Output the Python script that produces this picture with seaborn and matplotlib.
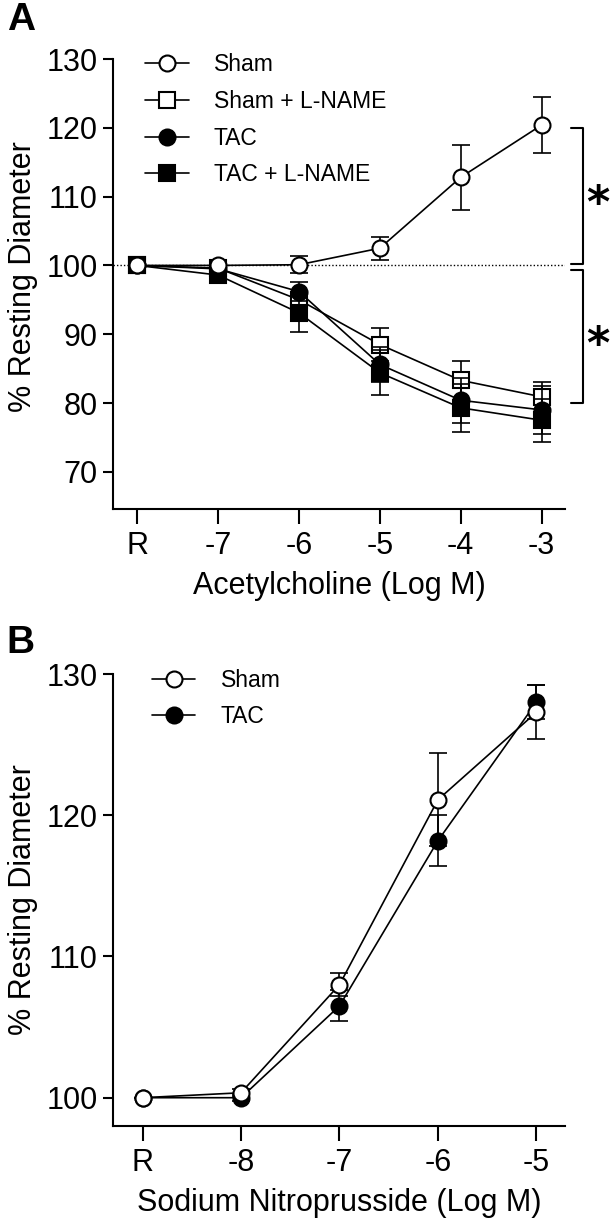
import numpy as np
import pandas as pd
import matplotlib
matplotlib.use('Agg')
import matplotlib.pyplot as plt
import seaborn as sns
from matplotlib.lines import Line2D

# Panel A: acetylcholine dose response
ach_labels = ['R', '-7', '-6', '-5', '-4', '-3']
sham = [100, 100, 100.1, 102.5, 112.8, 120.4]
sham_err = [0, 0.3, 1.2, 1.7, 4.7, 4.1]
sham_lname = [100, 99.6, 95.0, 88.5, 83.3, 80.9]
sham_lname_err = [0, 0.4, 1.2, 2.4, 2.8, 2.2]
tac = [100, 99.5, 96.2, 85.6, 80.4, 79.0]
tac_err = [0, 0.4, 1.4, 2.6, 3.3, 3.5]
tac_lname = [100, 98.6, 93.1, 84.4, 79.3, 77.5]
tac_lname_err = [0, 0.5, 2.8, 3.3, 3.5, 3.1]

# Panel B: sodium nitroprusside dose response
snp_labels = ['R', '-8', '-7', '-6', '-5']
snp_sham = [100, 100.35, 108.0, 121.1, 127.3]
snp_sham_err = [0, 0.3, 0.8, 3.3, 1.9]
snp_tac = [100, 100.0, 106.5, 118.2, 128.0]
snp_tac_err = [0, 0.2, 1.1, 1.8, 1.2]

sns.set_style('ticks')
plt.rcParams['font.family'] = ['Liberation Sans', 'DejaVu Sans']
plt.rcParams['axes.linewidth'] = 1.5
for key in ['text.color', 'axes.labelcolor', 'xtick.color', 'ytick.color', 'axes.edgecolor']:
    plt.rcParams[key] = 'black'

TICK_FS = 22
LABEL_FS = 22
LEG_FS = 16.5
MS = 11.5
LW = 1.2

fig = plt.figure(figsize=(6.1, 12.22), dpi=100)
axA = fig.add_axes([0.1852, 0.5835, 0.741, 0.3682])
axB = fig.add_axes([0.1852, 0.0786, 0.741, 0.3698])


def draw_series(ax, labels, vals, errs, name, marker, face, z):
    d = pd.DataFrame({'x': np.arange(len(labels)), 'y': vals, 'e': errs})
    ax.errorbar(d['x'], d['y'], yerr=d['e'], fmt='none', ecolor='black',
                elinewidth=1.2, capsize=6.5, capthick=1.2, zorder=z)
    sns.lineplot(data=d, x='x', y='y', ax=ax, color='black', lw=LW,
                 marker=marker, markersize=MS, markerfacecolor=face,
                 markeredgecolor='black', markeredgewidth=1.5,
                 label=name, zorder=z + 0.5, legend=False)


def style_axis(ax, labels, ylim, yticks, xlabel):
    ax.set_xlim(-0.3, len(labels) - 1 + 0.29)
    ax.set_ylim(*ylim)
    ax.set_yticks(yticks)
    ax.set_xticks(np.arange(len(labels)))
    ax.set_xticklabels(labels)
    ax.tick_params(axis='x', length=11, width=1.5, pad=5, labelsize=TICK_FS)
    ax.tick_params(axis='y', length=7, width=1.5, pad=4, labelsize=TICK_FS)
    ax.set_xlabel(xlabel, fontsize=LABEL_FS, labelpad=7)
    ax.set_ylabel('% Resting Diameter', fontsize=LABEL_FS)
    sns.despine(ax=ax)


def legend_handles(specs):
    return [Line2D([], [], color='black', lw=LW, marker=m, ms=MS, mfc=f,
                   mec='black', mew=1.5) for m, f in specs]


# ---- Panel A ----
axA.axhline(100, color='black', lw=1.0, ls=(0, (1, 1.5)), zorder=1)
draw_series(axA, ach_labels, sham_lname, sham_lname_err, 'Sham + L-NAME', 's', 'white', 2)
draw_series(axA, ach_labels, tac_lname, tac_lname_err, 'TAC + L-NAME', 's', 'black', 3)
draw_series(axA, ach_labels, tac, tac_err, 'TAC', 'o', 'black', 4)
draw_series(axA, ach_labels, sham, sham_err, 'Sham', 'o', 'white', 5)
style_axis(axA, ach_labels, (64.6, 130), [70, 80, 90, 100, 110, 120, 130],
           'Acetylcholine (Log M)')
axA.yaxis.set_label_coords(-0.166, 0.517)

axA.legend(legend_handles([('o', 'white'), ('s', 'white'), ('o', 'black'), ('s', 'black')]),
           ['Sham', 'Sham + L-NAME', 'TAC', 'TAC + L-NAME'],
           loc='upper left', bbox_to_anchor=(0.071, 1.013), frameon=False,
           fontsize=LEG_FS, handlelength=1.9, handletextpad=1.1,
           labelspacing=0.6, borderpad=0, borderaxespad=0)

# significance brackets
tr = axA.get_yaxis_transform()
for y0, y1, ys in [(120, 100.2, 108.9), (99.4, 80, 88.4)]:
    axA.plot([1.013, 1.040, 1.040, 1.013], [y0, y0, y1, y1], color='black',
             lw=1.5, transform=tr, clip_on=False)
    axA.text(1.072, ys, '*', transform=tr, fontsize=32, fontweight='bold',
             ha='center', va='center', family='DejaVu Sans')

# ---- Panel B ----
draw_series(axB, snp_labels, snp_tac, snp_tac_err, 'TAC', 'o', 'black', 3)
draw_series(axB, snp_labels, snp_sham, snp_sham_err, 'Sham', 'o', 'white', 4)
style_axis(axB, snp_labels, (98, 130), [100, 110, 120, 130],
           'Sodium Nitroprusside (Log M)')
axB.yaxis.set_label_coords(-0.166, 0.5)

axB.legend(legend_handles([('o', 'white'), ('o', 'black')]), ['Sham', 'TAC'],
           loc='upper left', bbox_to_anchor=(0.086, 1.012), frameon=False,
           fontsize=LEG_FS, handlelength=1.9, handletextpad=1.1,
           labelspacing=0.6, borderpad=0, borderaxespad=0)

# panel letters
fig.text(0.034, 0.9836, 'A', fontsize=28, fontweight='bold', ha='center', va='center')
fig.text(0.034, 0.474, 'B', fontsize=28, fontweight='bold', ha='center', va='center')

fig.savefig('out.png', dpi=100)
